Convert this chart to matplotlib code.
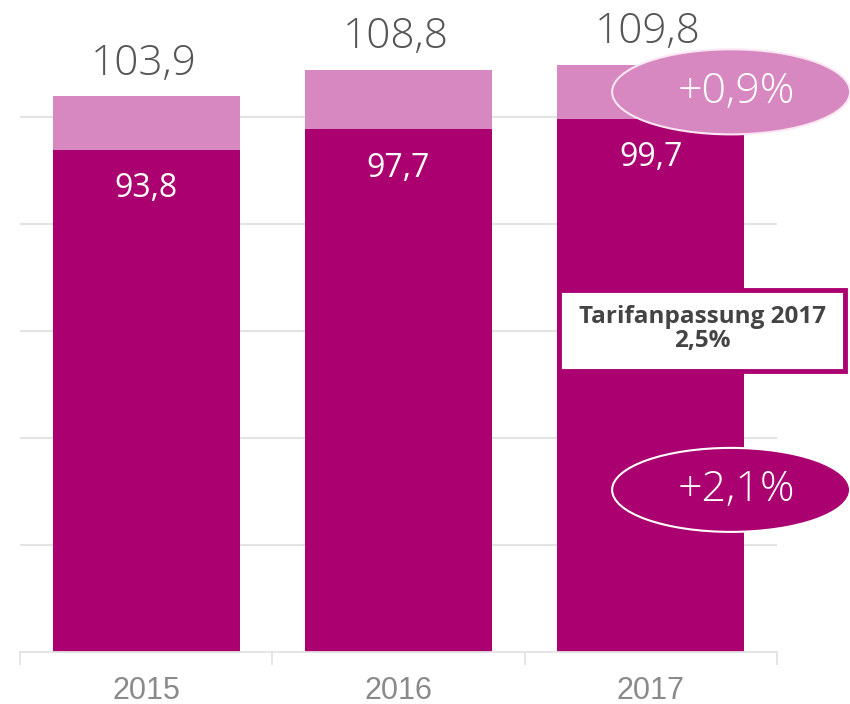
import matplotlib
matplotlib.use("Agg")
import matplotlib.pyplot as plt
from matplotlib.patches import Ellipse, Rectangle

years = ["2015", "2016", "2017"]
base_values = [93.8, 97.7, 99.7]
total_values = [103.9, 108.8, 109.8]
base_labels = ["93,8", "97,7", "99,7"]
total_labels = ["103,9", "108,8", "109,8"]
top_values = [t - b for t, b in zip(total_values, base_values)]

dark = "#AB0070"
light = "#D888C0"
grid_c = "#E3E3E3"

fig = plt.figure(figsize=(8.5, 7.04), dpi=100)
ax = fig.add_axes([20/850, 52/704, 757/850, 642/704])
x = list(range(len(years)))
ax.bar(x, base_values, width=0.74, color=dark, zorder=2)
ax.bar(x, top_values, bottom=base_values, width=0.74, color=light, zorder=2)
ax.set_xlim(-0.5, 2.5)
ax.set_ylim(0, 120)
ax.set_yticks([20, 40, 60, 80, 100])
ax.yaxis.grid(True, color=grid_c, lw=1.5, zorder=0)
ax.tick_params(axis="y", length=0, labelleft=False)
ax.set_xticks([-0.5, 0.5, 1.5, 2.5])
ax.set_xticklabels([])
ax.tick_params(axis="x", length=9, width=1.3, color=grid_c, direction="out")
for s in ["top", "right", "left"]:
    ax.spines[s].set_visible(False)
ax.spines["bottom"].set_color(grid_c)
ax.spines["bottom"].set_linewidth(1.3)

for i in x:
    ax.annotate(total_labels[i], (i, total_values[i]), xytext=(-2, 15.5), textcoords="offset points",
                ha="center", va="baseline", fontsize=30.5, color="#555555",
                family="Open Sans", fontweight="light")
    ax.annotate(base_labels[i], (i, base_values[i]), xytext=(0, -34), textcoords="offset points",
                ha="center", va="baseline", fontsize=23, color="white", family="Open Sans")
    ax.annotate(years[i], (i, 0), xytext=(0, -33.5), textcoords="offset points",
                ha="center", va="baseline", fontsize=22, color="#8A8A8A", family="Liberation Sans")

# ellipses
e1 = Ellipse((2.318, 104.7), 0.943, 15.9, facecolor=light, edgecolor="#FBE6F3", lw=1.5,
             clip_on=False, zorder=5)
ax.add_patch(e1)
ax.text(2.318 + 0.02, 104.7, "+0,9%", ha="center", va="center", fontsize=31, color="white",
        family="Open Sans", fontweight="light", zorder=6)
e2 = Ellipse((2.318, 30.3), 0.943, 15.7, facecolor=dark, edgecolor="white", lw=1.5,
             clip_on=False, zorder=5)
ax.add_patch(e2)
ax.text(2.318 + 0.02, 30.3, "+2,1%", ha="center", va="center", fontsize=31, color="white",
        family="Open Sans", fontweight="light", zorder=6)

# box
r = Rectangle((1.636, 52.6), 1.135, 15.0, facecolor="white", edgecolor=dark, lw=3.5,
              clip_on=False, zorder=5)
ax.add_patch(r)
ax.text(2.203, 60.3, "Tarifanpassung 2017\n2,5%", ha="center", va="center", fontsize=17.5,
        color="#444444", family="Open Sans", fontweight="bold", linespacing=1.0, zorder=6)

fig.savefig("out.png", dpi=100)
